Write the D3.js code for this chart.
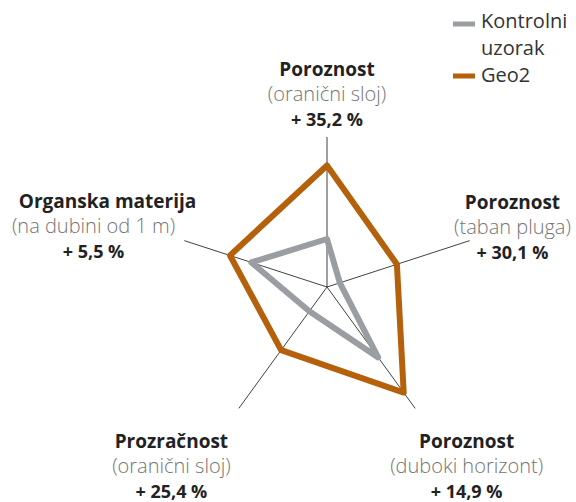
<!DOCTYPE html>
<html>
<head>
<meta charset="utf-8">
<script src="https://cdn.jsdelivr.net/npm/d3@7"></script>
<style>
  body { margin: 0; background: #fff; }
  svg { display: block; }
</style>
</head>
<body>
<div id="radar"></div>
<script>
// axes, clockwise from the top
var titles = ["Poroznost", "Poroznost", "Poroznost", "Prozračnost", "Organska materija"];
var subtitles = ["(oranični sloj)", "(taban pluga)", "(duboki horizont)", "(oranični sloj)", "(na dubini od 1 m)"];
var gains = ["+ 35,2 %", "+ 30,1 %", "+ 14,9 %", "+ 25,4 %", "+ 5,5 %"];

var seriesNames = ["Kontrolni uzorak", "Geo2"];
var kontrolni = [32, 9, 58, 20, 53];
var geo2 = [81, 49, 87, 52, 68];

var colors = {"Kontrolni uzorak": "#9a9ea2", "Geo2": "#b5600b"};

var width = 576, height = 502;
var cx = 327, cy = 287;

var svg = d3.select("#radar")
  .append("svg")
    .attr("width", width)
    .attr("height", height);

var r = d3.scaleLinear()
    .domain([0, 100])
    .range([0, 150]);

var angle = d3.scaleLinear()
    .domain([0, titles.length])
    .range([0, 2 * Math.PI]);

function pt(i, v) {
  var a = angle(i);
  return [cx + r(v) * Math.sin(a), cy - r(v) * Math.cos(a)];
}

// spokes
svg.append("g")
  .selectAll("line")
  .data(titles)
  .enter()
  .append("line")
    .attr("x1", cx)
    .attr("y1", cy)
    .attr("x2", (d, i) => pt(i, 100)[0])
    .attr("y2", (d, i) => pt(i, 100)[1])
    .attr("stroke", "#2b2b2b")
    .attr("stroke-width", 0.9);

// series
var line = d3.line().curve(d3.curveLinearClosed);
[["Kontrolni uzorak", kontrolni], ["Geo2", geo2]].forEach(function(s) {
  svg.append("path")
    .attr("d", line(s[1].map((v, i) => pt(i, v))))
    .attr("fill", "none")
    .attr("stroke", colors[s[0]])
    .attr("stroke-width", 6)
    .attr("stroke-linejoin", "round");
});

// labels: centre of middle line = spoke end pushed out, plus a nudge
var labelR = 130;
var nudge = [[0, 3], [0, 1], [25, 22], [-41, 22], [-48, 0]];

var labels = svg.append("g")
  .selectAll("g")
  .data(titles)
  .enter()
  .append("g")
    .attr("transform", function(d, i) {
      var p = pt(i, labelR);
      return "translate(" + (p[0] + nudge[i][0]) + "," + (p[1] + nudge[i][1]) + ")";
    })
    .attr("text-anchor", "middle")
    .style("font-family", "'Open Sans', sans-serif");

labels.append("text")
    .attr("y", -19)
    .style("font-size", "19px")
    .style("font-weight", "bold")
    .attr("fill", "#222")
    .attr("dx", (d, i) => i == 4 ? 14 : 0)
    .text(d => d);

labels.append("text")
    .attr("y", 6)
    .style("font-size", "20px")
    .style("font-weight", 300)
    .attr("fill", "#747474")
    .text((d, i) => subtitles[i]);

labels.append("text")
    .attr("y", 31)
    .style("font-size", "18px")
    .style("font-weight", "bold")
    .attr("fill", "#222")
    .text((d, i) => gains[i]);

// legend
var legend = svg.append("g")
    .attr("transform", "translate(453,0)")
    .style("font-family", "'Open Sans', sans-serif")
    .style("font-size", "20px")
    .attr("fill", "#333");

legend.append("rect")
    .attr("x", 0).attr("y", 21.5)
    .attr("width", 22).attr("height", 5)
    .attr("fill", colors["Kontrolni uzorak"]);
legend.append("text").attr("x", 28).attr("y", 28).text("Kontrolni");
legend.append("text").attr("x", 28).attr("y", 55).text("uzorak");

legend.append("rect")
    .attr("x", 0).attr("y", 73.5)
    .attr("width", 22).attr("height", 5)
    .attr("fill", colors["Geo2"]);
legend.append("text").attr("x", 28).attr("y", 82).text("Geo2");
</script>
</body>
</html>
